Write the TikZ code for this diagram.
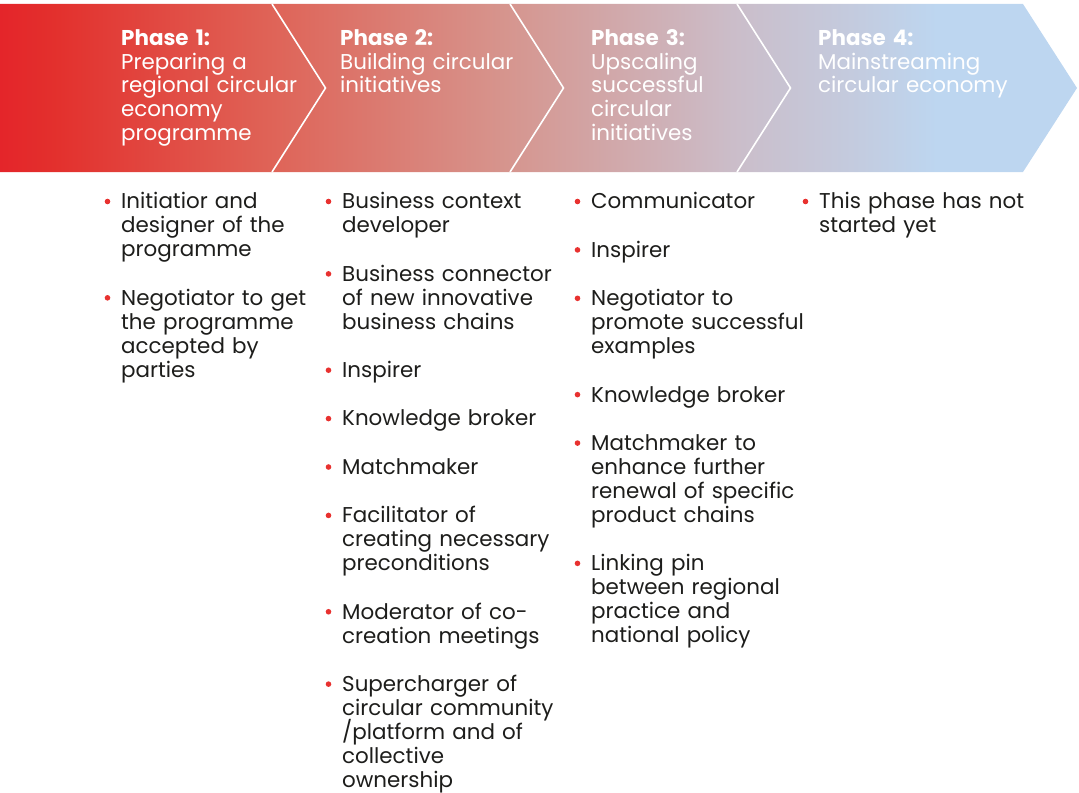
\documentclass[tikz,border=0pt]{standalone}
\usepackage{fontspec}
\setmainfont{Poppins}
\usetikzlibrary{positioning}

\definecolor{phasered}{HTML}{E4252A}
\definecolor{fadeA}{HTML}{E3302D}
\definecolor{fadeB}{HTML}{DF6357}
\definecolor{fadeC}{HTML}{D6958E}
\definecolor{fadeD}{HTML}{CBBDC9}
\definecolor{fadeE}{HTML}{C3CCE0}
\definecolor{phaseblue}{HTML}{BDD6F0}
\definecolor{dotred}{HTML}{E8312F}
\definecolor{bodytext}{HTML}{1D1D1B}

% red-to-blue fade of the phase banner (25bp..75bp covers the path)
\pgfdeclarehorizontalshading{phasefade}{100bp}{%
  color(0bp)=(phasered); color(25bp)=(phasered); color(27.5bp)=(fadeA);
  color(37.5bp)=(fadeB); color(48.5bp)=(fadeC); color(59bp)=(fadeD);
  color(65bp)=(fadeE); color(68.5bp)=(phaseblue); color(75bp)=(phaseblue);
  color(100bp)=(phaseblue)}

\newcommand{\phasefont}{\fontsize{21.5}{24.05}\selectfont\lineskiplimit=-20bp}

\begin{document}
\begin{tikzpicture}[
  x=1bp, y=1bp,
  node distance=24.05bp,
  txt/.style={inner sep=0pt, text width=240bp, align=left, font=\phasefont,
              execute at begin node=\strut, execute at end node=\strut},
  phasetitle/.style={txt, anchor=north west, text=white},
  item/.style={txt, text=bodytext},
  divider/.style={white, line width=1.6bp},
]
\useasboundingbox (0,0) rectangle (1079,-793);

%% banner
\shade[shading=phasefade] (0,-4) -- (1023,-4) -- (1077,-88) -- (1023,-172)
  -- (0,-172) -- cycle;
\foreach \x in {272,510,737}
  \draw[divider] (\x,-4) -- (\x+53.5,-88) -- (\x,-172);

\node[phasetitle] (t1) at (121,-28.1) {\textbf{Phase 1:}\\Preparing a\\regional circular\\economy\\programme};
\node[phasetitle] (t2) at (340,-28.1) {\textbf{Phase 2:}\\Building circular\\initiatives};
\node[phasetitle] (t3) at (591,-28.1) {\textbf{Phase 3:}\\Upscaling\\successful\\circular\\initiatives};
\node[phasetitle] (t4) at (818,-28.1) {\textbf{Phase 4:}\\Mainstreaming\\circular economy};

%% phase 1
\node[item, anchor=north west] (p1a) at (121,-191.9) {Initiatior and\\designer of the\\programme};
\node[item, below=of p1a] (p1b) {Negotiator to get\\the programme\\accepted by\\parties};

%% phase 2
\node[item, anchor=north west] (p2a) at (342,-191.9) {Business context\\developer};
\node[item, below=of p2a] (p2b) {Business connector\\of new innovative\\business chains};
\node[item, below=of p2b] (p2c) {Inspirer};
\node[item, below=of p2c] (p2d) {Knowledge broker};
\node[item, below=of p2d] (p2e) {Matchmaker};
\node[item, below=of p2e] (p2f) {Facilitator of\\creating necessary\\preconditions};
\node[item, below=of p2f] (p2g) {Moderator of co-\\creation meetings};
\node[item, below=of p2g] (p2h) {Supercharger of\\circular community\\/platform and of\\collective\\ownership};

%% phase 3
\node[item, anchor=north west] (p3a) at (591,-191.9) {Communicator};
\node[item, below=of p3a] (p3b) {Inspirer};
\node[item, below=of p3b] (p3c) {Negotiator to\\promote successful\\examples};
\node[item, below=of p3c] (p3d) {Knowledge broker};
\node[item, below=of p3d] (p3e) {Matchmaker to\\enhance further\\renewal of specific\\product chains};
\node[item, below=of p3e] (p3f) {Linking pin\\between regional\\practice and\\national policy};

%% phase 4
\node[item, anchor=north west] (p4a) at (819,-191.9) {This phase has not\\started yet};

%% bullets
\foreach \n in {p1a,p1b,p2a,p2b,p2c,p2d,p2e,p2f,p2g,p2h,p3a,p3b,p3c,p3d,p3e,p3f,p4a}
  \fill[dotred] ([xshift=-13.5bp,yshift=-9.6bp]\n.north west) circle (2.8bp);
\end{tikzpicture}
\end{document}
